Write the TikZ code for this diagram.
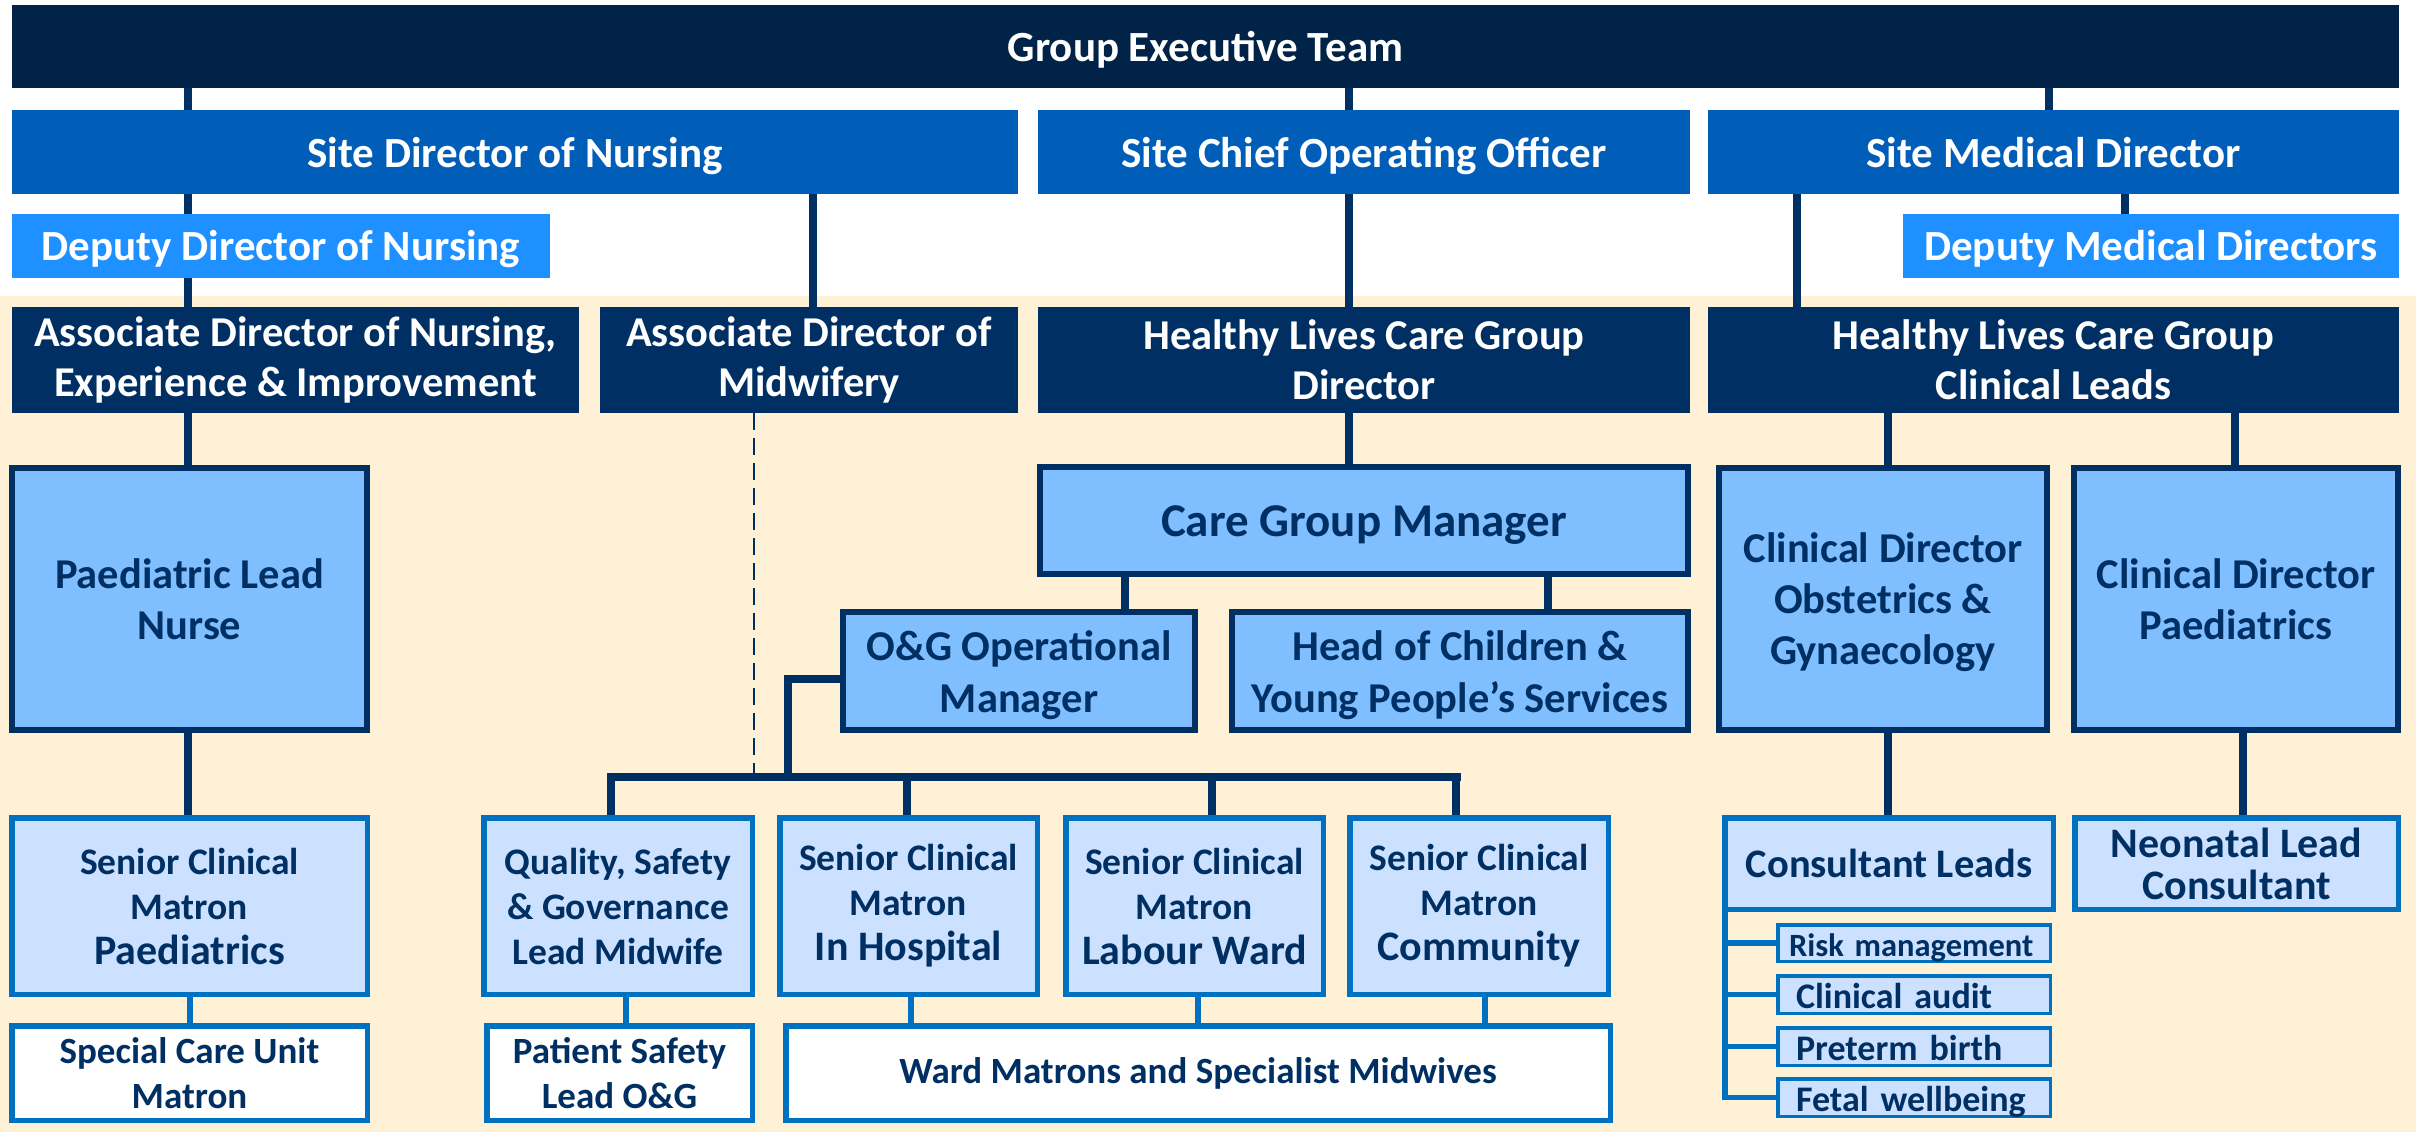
\documentclass[tikz,border=0pt]{standalone}
\usepackage{fontspec}
\setmainfont{Carlito}
\pgfdeclarelayer{paper}
\pgfdeclarelayer{links}
\pgfsetlayers{paper,links,main}

\definecolor{exec}{HTML}{012348}
\definecolor{assoc}{HTML}{003063}
\definecolor{site}{HTML}{005EB8}
\definecolor{deputy}{HTML}{1E90FF}
\definecolor{light}{HTML}{7FBEFF}
\definecolor{pale}{HTML}{CCE1FF}
\definecolor{edge}{HTML}{0070C0}
\definecolor{cream}{HTML}{FFF1D5}

% bold Carlito at a given size / baseline skip
\newcommand\sizeb[2]{\fontsize{#1}{#2}\selectfont\bfseries}
% invisible strut that lowers a multi-line label a little
\newcommand\padtop[1]{\rule{0pt}{#1}}

% box given by its outer corners: name, style, border width, x1, y1, x2, y2, text
\newcommand\orgbox[8]{%
  \node[inner sep=0pt, align=center, #2, line width=#3pt,
        minimum width={(#6-#4-#3)*1pt}, minimum height={(#7-#5-#3)*1pt}]
       (#1) at ({(#4+#6)/2},{(#5+#7)/2}) {#8};}

\tikzset{
  solid/.style={fill=#1, draw=none, text=white},
  framed/.style={fill=light, draw=assoc, text=assoc},
  matron/.style={fill=pale, draw=edge, text=assoc},
  plainbox/.style={fill=white, draw=edge, text=assoc},
  oneline/.style={text height=36pt, text depth=6pt},
  topic/.style={fill=pale, draw=edge, text=assoc, align=left, text width=236pt,
                text height=30pt, text depth=3pt, font=\sizeb{36}{40}},
  link/.style={draw=assoc, line width=7.5pt},
  bluelink/.style={draw=edge, line width=5.5pt},
  softlink/.style={draw=assoc, line width=2.3pt, dash pattern=on 17pt off 8pt},
}

\begin{document}
\begin{tikzpicture}[x=1pt, y=-1pt]
\useasboundingbox (0,0) rectangle (2422,1132);
\begin{pgfonlayer}{paper}
  \fill[white] (0,0) rectangle (2422,1132);
  \fill[cream] (0,296) rectangle (2416,1132);
\end{pgfonlayer}

% executive and site tiers
\orgbox{GET}{solid=exec, oneline, font=\sizeb{43}{50}}{0}{12}{5}{2399}{88}{Group Executive Team}
\orgbox{SDN}{solid=site, oneline, font=\sizeb{43}{50}}{0}{12}{110}{1018}{194}{Site Director of Nursing}
\orgbox{COO}{solid=site, oneline, font=\sizeb{43}{50}}{0}{1038}{110}{1690}{194}{Site Chief Operating Officer}
\orgbox{SMD}{solid=site, oneline, font=\sizeb{43}{50}}{0}{1708}{110}{2399}{194}{Site Medical Director}
\orgbox{DDN}{solid=deputy, oneline, text height=35pt, font=\sizeb{43}{50}}{0}{12}{214}{550}{278}{Deputy Director of Nursing}
\orgbox{DMD}{solid=deputy, oneline, text height=35pt, font=\sizeb{43}{50}}{0}{1903}{214}{2399}{278}{Deputy Medical Directors}

% associate directors
\orgbox{ADN}{solid=assoc, font=\sizeb{42.5}{50}}{0}{12}{307}{579}{413}{Associate Director of Nursing,\\Experience \& Improvement}
\orgbox{ADM}{solid=assoc, font=\sizeb{42.5}{50}}{0}{600}{307}{1018}{413}{Associate Director of\\Midwifery}
\orgbox{HLD}{solid=assoc, font=\sizeb{42.5}{50}}{0}{1038}{307}{1690}{413}{Healthy Lives Care Group\\Director}
\orgbox{HLCL}{solid=assoc, font=\sizeb{42.5}{50}}{0}{1708}{307}{2399}{413}{Healthy Lives Care Group\\Clinical Leads}

% leads and managers
\orgbox{PLN}{framed, font=\sizeb{42.5}{51}}{6}{9}{465}{370}{733}{Paediatric Lead\\Nurse}
\orgbox{CGM}{framed, oneline, text height=38pt, font=\sizeb{47}{52}}{6}{1037}{464}{1691}{577}{Care Group Manager}
\orgbox{OGM}{framed, font=\sizeb{42.5}{52}}{6}{840}{609}{1198}{733}{\padtop{38.5pt}O\&G Operational\\Manager}
\orgbox{HCYP}{framed, font=\sizeb{42.5}{52}}{6}{1229}{609}{1691}{733}{\padtop{38.5pt}Head of Children \&\\Young People’s Services}
\orgbox{CDOG}{framed, font=\sizeb{42.5}{51}}{6}{1716}{465}{2050}{733}{\padtop{37pt}Clinical Director\\Obstetrics \&\\Gynaecology}
\orgbox{CDP}{framed, font=\sizeb{42.5}{51}}{6}{2071}{465}{2401}{733}{Clinical Director\\Paediatrics}

% senior clinical matrons and consultants
\orgbox{SCMP}{matron, font=\sizeb{37.5}{45}}{5.5}{9}{815}{370}{997}{Senior Clinical\\Matron\\{\sizeb{42}{49}Paediatrics}}
\orgbox{QSG}{matron, font=\sizeb{37.5}{45}}{5.5}{481}{815}{755}{997}{Quality, Safety\\\& Governance\\Lead Midwife}
\orgbox{SCMH}{matron, font=\sizeb{37.5}{45}}{5.5}{777}{815}{1040}{997}{Senior Clinical\\Matron\\{\sizeb{42}{49}In Hospital}}
\orgbox{SCML}{matron, font=\sizeb{37.5}{45}}{5.5}{1063}{815}{1326}{997}{Senior Clinical\\Matron\\{\sizeb{42}{49}Labour Ward}}
\orgbox{SCMC}{matron, font=\sizeb{37.5}{45}}{5.5}{1347}{815}{1611}{997}{Senior Clinical\\Matron\\{\sizeb{42}{49}Community}}
\orgbox{CL}{matron, font=\sizeb{40.5}{48}}{5.5}{1722}{815}{2056}{912}{Consultant Leads}
\orgbox{NLC}{matron, font=\sizeb{42}{42}}{5.5}{2072}{815}{2401}{912}{Neonatal Lead\\Consultant}

% ward level
\orgbox{SCU}{plainbox, font=\sizeb{37}{45}}{5.5}{9}{1023}{370}{1123}{Special Care Unit\\Matron}
\orgbox{PSL}{plainbox, font=\sizeb{37}{45}}{5.5}{484}{1023}{755}{1123}{Patient Safety\\Lead O\&G}
\orgbox{WM}{plainbox, font=\sizeb{37}{44}}{5.5}{783}{1023}{1613}{1123}{Ward Matrons and Specialist Midwives}

% consultant lead topics
\orgbox{RM}{topic, text width=250pt, font=\sizeb{32.5}{38}}{3.5}{1776}{923}{2052}{963}{Risk management}
\orgbox{CA}{topic}{3.5}{1776}{974}{2052}{1015}{Clinical audit}
\orgbox{PB}{topic}{3.5}{1776}{1026}{2052}{1067}{Preterm birth}
\orgbox{FW}{topic}{3.5}{1776}{1077}{2052}{1118}{Fetal wellbeing}

\coordinate (barL) at (607,777);
\coordinate (barR) at (1461,777);
\coordinate (elbow) at (788,679);

\begin{pgfonlayer}{links}
  \draw[link] (188,0 |- GET.south) -- (188,0 |- SDN.north);
  \draw[link] (188,0 |- SDN.south) -- (188,0 |- DDN.north);
  \draw[link] (188,0 |- DDN.south) -- (188,0 |- ADN.north);
  \draw[link] (813,0 |- SDN.south) -- (813,0 |- ADM.north);
  \draw[link] (1349,0 |- GET.south) -- (1349,0 |- COO.north);
  \draw[link] (1349,0 |- COO.south) -- (1349,0 |- HLD.north);
  \draw[link] (2049,0 |- GET.south) -- (2049,0 |- SMD.north);
  \draw[link] (1797,0 |- SMD.south) -- (1797,0 |- HLCL.north);
  \draw[link] (2125,0 |- SMD.south) -- (2125,0 |- DMD.north);
  \draw[link] (188,0 |- ADN.south) -- (188,0 |- PLN.north);
  \draw[link] (1349,0 |- HLD.south) -- (1349,0 |- CGM.north);
  \draw[link] (1888,0 |- HLCL.south) -- (1888,0 |- CDOG.north);
  \draw[link] (2235,0 |- HLCL.south) -- (2235,0 |- CDP.north);
  \draw[link] (1125,0 |- CGM.south) -- (1125,0 |- OGM.north);
  \draw[link] (1548,0 |- CGM.south) -- (1548,0 |- HCYP.north);
  \draw[link] (188,0 |- PLN.south) -- (188,0 |- SCMP.north);
  \draw[link] (1888,0 |- CDOG.south) -- (1888,0 |- CL.north);
  \draw[link] (2243,0 |- CDP.south) -- (2243,0 |- NLC.north);
  % midwifery line of accountability
  \draw[softlink] (754,0 |- ADM.south) -- (754,0 |- barL);
  % operational manager to the matrons
  \draw[link] (elbow -| OGM.west) -- (elbow) -- (elbow |- barL);
  \draw[link, line width=8pt] (barL) -- (barR);
  \draw[link] (611,0 |- barL) -- (611,0 |- QSG.north);
  \draw[link] (907,0 |- barL) -- (907,0 |- SCMH.north);
  \draw[link] (1212,0 |- barL) -- (1212,0 |- SCML.north);
  \draw[link] (1456,0 |- barL) -- (1456,0 |- SCMC.north);
  % ward level
  \draw[bluelink] (190,0 |- SCMP.south) -- (190,0 |- SCU.north);
  \draw[bluelink] (626,0 |- QSG.south) -- (626,0 |- PSL.north);
  \draw[bluelink] (911,0 |- SCMH.south) -- (911,0 |- WM.north);
  \draw[bluelink] (1198,0 |- SCML.south) -- (1198,0 |- WM.north);
  \draw[bluelink] (1485,0 |- SCMC.south) -- (1485,0 |- WM.north);
  % consultant lead topics
  \draw[bluelink] (1725,0 |- CL.south) -- (1725,0 |- FW.west) -- (FW.west);
  \draw[bluelink] (1725,0 |- RM.west) -- (RM.west);
  \draw[bluelink] (1725,0 |- CA.west) -- (CA.west);
  \draw[bluelink] (1725,0 |- PB.west) -- (PB.west);
\end{pgfonlayer}
\end{tikzpicture}
\end{document}
